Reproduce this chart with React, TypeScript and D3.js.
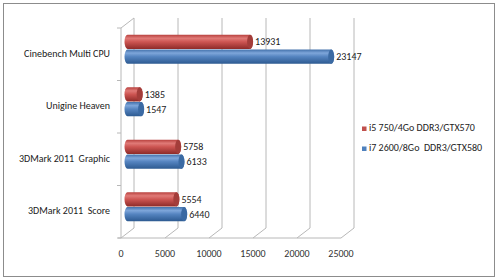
import React from "react";
import * as d3 from "d3";

const categories = ["Cinebench Multi CPU", "Unigine Heaven", "3DMark 2011  Graphic", "3DMark 2011  Score"];
const seriesNames = ["i5 750/4Go DDR3/GTX570", "i7 2600/8Go  DDR3/GTX580"];
const i5Values = [13931, 1385, 5758, 5554];
const i7Values = [23147, 1547, 6133, 6440];
const xTicks = [0, 5000, 10000, 15000, 20000, 25000];

const W = 500, H = 280;
const FONT = "Carlito, 'Liberation Sans Narrow', 'Open Sans', sans-serif";
const DX = 13, DY = -10;
const FS = 10;

export default function App() {
  const x = d3.scaleLinear().domain([0, 25000]).range([121, 341]);
  const y = d3.scaleBand<string>().domain(categories).range([28, 238]);
  const inner = d3.scaleBand<string>().domain(["i5", "i7"]).range([-14.5, 14.5]).paddingInner(0.04);
  const series = [
    { key: "i5", name: seriesNames[0], values: i5Values, grad: "gRed", cap: "#a33d3a", sw: "#c0504d" },
    { key: "i7", name: seriesNames[1], values: i7Values, grad: "gBlue", cap: "#3b6aa3", sw: "#4f81bd" },
  ];
  const top = 28, bottom = 238;
  const gridColor = "#b8b8b8";
  const rx = 3;
  const mx = DX / 2, my = DY / 2;
  const pre = { whiteSpace: "pre" as const };
  return (
    <svg width={W} height={H} style={{ position: "absolute", left: 0, top: 0 }} fontFamily={FONT}>
      <defs>
        <linearGradient id="gRed" x1="0" y1="0" x2="0" y2="1">
          <stop offset="0" stopColor="#b8413e" />
          <stop offset="0.25" stopColor="#e07a77" />
          <stop offset="0.5" stopColor="#cd5552" />
          <stop offset="1" stopColor="#8e2b29" />
        </linearGradient>
        <linearGradient id="gBlue" x1="0" y1="0" x2="0" y2="1">
          <stop offset="0" stopColor="#4371ab" />
          <stop offset="0.25" stopColor="#7ea6da" />
          <stop offset="0.5" stopColor="#5584c0" />
          <stop offset="1" stopColor="#2d5a91" />
        </linearGradient>
      </defs>
      <rect x={3.5} y={3.5} width={491} height={273} fill="#fff" stroke="#8c8c8c" strokeWidth={1} />
      {xTicks.map((t) => (
        <g key={t}>
          <line x1={x(t) + DX} x2={x(t) + DX} y1={top + DY} y2={bottom + DY} stroke={gridColor} />
          <line x1={x(t)} x2={x(t) + DX} y1={bottom} y2={bottom + DY} stroke={gridColor} />
          <text x={x(t)} y={257} textAnchor="middle" fontSize={FS} fill="#333">{t}</text>
        </g>
      ))}
      <line x1={x(0)} x2={x(0)} y1={top} y2={bottom} stroke={gridColor} />
      <line x1={x(0)} x2={x(0) + DX} y1={top} y2={top + DY} stroke={gridColor} />
      <line x1={x(0) - 3} x2={x(25000)} y1={bottom} y2={bottom} stroke={gridColor} />
      {[...categories.map((c) => y(c)!), bottom].map((v, i) => (
        <line key={i} x1={x(0) - 4} x2={x(0)} y1={v} y2={v} stroke={gridColor} />
      ))}
      {categories.map((c) => (
        <text key={c} x={110} y={y(c)! + y.bandwidth() / 2} textAnchor="end" dominantBaseline="middle" fontSize={FS} fill="#222" style={pre}>{c}</text>
      ))}
      {categories.map((c, ci) => {
        const cy = y(c)! + y.bandwidth() / 2 + my;
        return series.map((s) => {
          const y0 = cy + inner(s.key)!;
          const h = inner.bandwidth();
          const x0 = x(0) + mx;
          const x1 = x(s.values[ci]) + mx;
          const path = `M${x0},${y0} L${x1},${y0} A${rx},${h / 2} 0 0 1 ${x1},${y0 + h} L${x0},${y0 + h} A${rx},${h / 2} 0 0 1 ${x0},${y0} Z`;
          return (
            <g key={c + s.key}>
              <path d={path} fill={`url(#${s.grad})`} />
              <ellipse cx={x1} cy={y0 + h / 2} rx={rx} ry={h / 2} fill={s.cap} />
              <text x={x1 + rx + 2} y={y0 + h / 2 + 1} dominantBaseline="middle" fontSize={FS} fill="#222">{s.values[ci]}</text>
            </g>
          );
        });
      })}
      {series.map((s, i) => (
        <g key={s.key}>
          <rect x={362} y={126.5 + i * 20} width={4.5} height={4.5} fill={s.sw} />
          <text x={369} y={129 + i * 20} dominantBaseline="middle" fontSize={FS} fill="#222" style={pre}>{s.name}</text>
        </g>
      ))}
    </svg>
  );
}
